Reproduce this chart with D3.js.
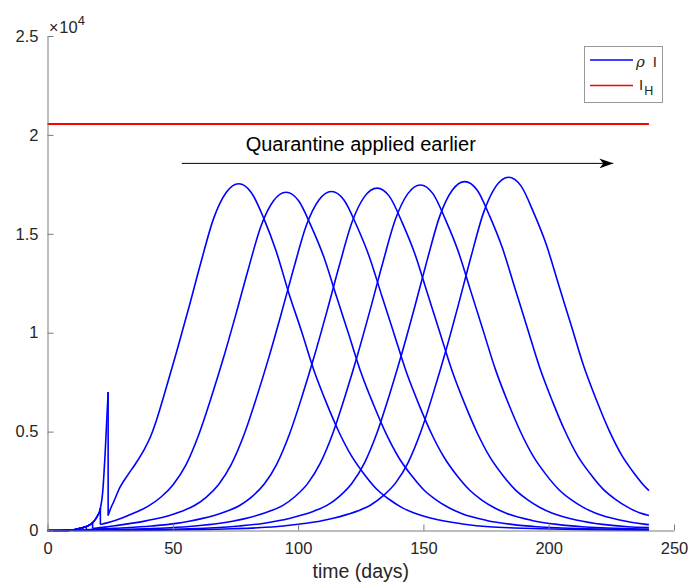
<!DOCTYPE html>
<html><head><meta charset="utf-8">
<script src="https://cdn.jsdelivr.net/npm/d3@7/dist/d3.min.js"></script>
<style>
body{margin:0;background:#fff}
svg{display:block;font-family:"Liberation Sans",Arial,Helvetica,sans-serif}
</style>
</head><body>
<svg id="chart" width="689" height="583"></svg>
<script>
// ---------- data ----------
const xTicks = [0, 50, 100, 150, 200, 250];
const yTicks = [0, 5000, 10000, 15000, 20000, 25000];
const yTickLabels = ["0", "0.5", "1", "1.5", "2", "2.5"];
const xLabel = "time (days)";
const annotationText = "Quarantine applied earlier";
const annotationArrowDays = [53.6, 225.8];
const annotationArrowValue = 18560;
const annotationTextDay = 125;
const annotationTextValue = 19200;

// shared growth before quarantine
const earlyGrowth = [[0,0],[5,2],[8,8],[10,25],[12,80],[14,140],[16,230],[17,300],[18,400],[19,540],[20,750],[21,1050],[22,1900],[23,3900],[24.2,7000]];
const quarantineDays = [24.2, 21.1, 18.0, 15.5, 13.0, 10.5, 8.0];
const valuesBeforeQuarantine = [7000, 1130, 400, 190, 110, 35, 8];

const curve1 = [[24.2,760],[25,1050],[26.5,1480],[29,2200],[32,2800],[35,3350],[38.4,4050],[41.3,4800],[43.8,5700],[46.3,6750],[51.3,8940],[56.3,11220],[61.3,13590],[66.3,15780],[71.3,17090],[76.3,17530],[81.3,17090],[86.3,15780],[91.3,14100],[96.3,12000],[101.3,10100],[106.3,8100],[111.3,6450],[116.3,4980],[121.3,3770],[126.3,2860],[131.3,2100],[136.3,1580],[141.3,1170],[146.3,880],[156.3,530],[166.3,320],[176.3,190],[186.3,130],[196.3,90],[216.3,35],[240,15]];
const curve2 = [[21.1,300],[25,430],[30,650],[35.2,920],[40.2,1230],[45.2,1680],[50.2,2330],[55.2,3300],[60.2,4790],[65.2,6670],[70.2,8720],[75.2,10940],[80.2,13250],[85.2,15390],[90.2,16670],[95.2,17100],[100.2,16670],[105.2,15390],[110.2,13850],[115.2,11880],[120.2,9920],[125.2,7950],[130.2,6330],[135.2,4870],[140.2,3680],[145.2,2790],[150.2,2050],[155.2,1540],[160.2,1150],[165.2,860],[175.2,510],[185.2,310],[195.2,190],[205.2,130],[215.2,90],[240,30]];
const curve3 = [[18,100],[23,170],[28,260],[33.3,360],[38.3,460],[43.3,590],[48.3,750],[53.3,960],[58.3,1240],[63.3,1680],[68.3,2330],[73.3,3330],[78.3,4800],[83.3,6680],[88.3,8740],[93.3,10970],[98.3,13280],[103.3,15430],[108.3,16710],[113.3,17140],[118.3,16710],[123.3,15430],[128.3,13880],[133.3,11910],[138.3,9940],[143.3,7970],[148.3,6340],[153.3,4880],[158.3,3690],[163.3,2790],[168.3,2060],[173.3,1540],[178.3,1150],[183.3,860],[193.3,510],[203.3,310],[213.3,190],[223.3,130],[233.3,86],[240,70]];
const curve4 = [[15.5,40],[21.5,85],[31.5,140],[41.5,225],[51.5,360],[56.5,470],[61.5,600],[66.5,760],[71.5,970],[76.5,1250],[81.5,1700],[86.5,2350],[91.5,3360],[96.5,4850],[101.5,6750],[106.5,8830],[111.5,11080],[116.5,13420],[121.5,15580],[126.5,16880],[131.5,17310],[136.5,16880],[141.5,15580],[146.5,14020],[151.5,12030],[156.5,10040],[161.5,8050],[166.5,6400],[171.5,4930],[176.5,3720],[181.5,2820],[186.5,2080],[191.5,1560],[196.5,1160],[201.5,870],[211.5,520],[221.5,310],[231.5,190],[240,150]];
const curve5 = [[13,15],[18.8,30],[28.8,52],[38.8,87],[48.8,140],[58.8,230],[68.8,370],[73.8,470],[78.8,600],[83.8,770],[88.8,980],[93.8,1260],[98.8,1720],[103.8,2370],[108.8,3390],[113.8,4890],[118.8,6810],[123.8,8910],[128.8,11180],[133.8,13540],[138.8,15720],[143.8,17030],[148.8,17470],[153.8,17030],[158.8,15720],[163.8,14150],[168.8,12140],[173.8,10130],[178.8,8120],[183.8,6460],[188.8,4980],[193.8,3760],[198.8,2850],[203.8,2100],[208.8,1570],[213.8,1170],[218.8,870],[228.8,520],[238.8,310],[240,295]];
const curve6 = [[10.5,5],[26.5,18],[46.5,53],[56.5,88],[66.5,140],[76.5,230],[86.5,370],[91.5,480],[96.5,610],[101.5,780],[106.5,990],[111.5,1270],[116.5,1730],[121.5,2390],[126.5,3420],[131.5,4940],[136.5,6880],[141.5,9000],[146.5,11290],[151.5,13670],[156.5,15880],[161.5,17200],[166.5,17640],[171.5,17200],[176.5,15880],[181.5,14290],[186.5,12260],[191.5,10230],[196.5,8200],[201.5,6530],[206.5,5030],[211.5,3790],[216.5,2880],[221.5,2120],[226.5,1590],[231.5,1180],[236.5,880],[240,760]];
const curve7 = [[8,2],[24,5],[44,18],[64,54],[74,89],[84,140],[94,230],[104,380],[109,480],[114,620],[119,790],[124,1000],[129,1290],[134,1760],[139,2420],[144,3460],[149,5000],[154,6970],[159,9110],[164,11430],[169,13840],[174,16070],[179,17410],[184,17860],[189,17410],[194,16070],[199,14470],[204,12410],[209,10360],[214,8300],[219,6610],[224,5090],[229,3840],[234,2910],[239,2140],[240,2020]];
const afterQuarantine = [curve1, curve2, curve3, curve4, curve5, curve6, curve7];

const hospitalDays = [0, 240];
const hospitalCapacity = 20550;

const seriesColors = { rhoI: "#0000ff", IH: "#ff0000" };

// ---------- drawing ----------
const svg = d3.select("#chart");
const x = d3.scaleLinear().domain([0, 250]).range([47.5, 674]);
const y = d3.scaleLinear().domain([0, 25000]).range([530.5, 36]);

const smooth = d3.line().x(d => x(d[0])).y(d => y(d[1])).curve(d3.curveMonotoneX);
const straight = d3.line().x(d => x(d[0])).y(d => y(d[1]));

const plot = svg.append("g");

// red horizontal line I_H
plot.append("path")
  .attr("d", straight(hospitalDays.map(d => [d, hospitalCapacity])))
  .attr("fill", "none").attr("stroke", seriesColors.IH).attr("stroke-width", 1.8);

// blue curves
afterQuarantine.forEach((post, i) => {
  const q = quarantineDays[i];
  const pre = earlyGrowth.filter(d => d[0] < q).concat([[q, valuesBeforeQuarantine[i]]]);
  plot.append("path").attr("d", smooth(pre))
    .attr("fill", "none").attr("stroke", seriesColors.rhoI).attr("stroke-width", 1.6)
    .attr("stroke-linejoin", "round");
  plot.append("path").attr("d", straight([[q, valuesBeforeQuarantine[i]], post[0]]))
    .attr("fill", "none").attr("stroke", seriesColors.rhoI).attr("stroke-width", 1.6);
  plot.append("path").attr("d", smooth(post))
    .attr("fill", "none").attr("stroke", seriesColors.rhoI).attr("stroke-width", 1.6)
    .attr("stroke-linejoin", "round");
});

// axes
const axisColor = "#7a7a7a";
const textColor = "#262626";
const xAxis = svg.append("g").attr("transform", `translate(0,${y(0)})`)
  .call(d3.axisBottom(x).tickValues(xTicks).tickSizeInner(-6).tickSizeOuter(0).tickPadding(12));
const yAxis = svg.append("g").attr("transform", `translate(${x(0)},0)`)
  .call(d3.axisLeft(y).tickValues(yTicks).tickFormat((d, i) => yTickLabels[i]).tickSizeInner(-6).tickSizeOuter(0).tickPadding(9));
[xAxis, yAxis].forEach(g => {
  g.select(".domain").attr("stroke", axisColor);
  g.selectAll(".tick line").attr("stroke", axisColor);
  g.selectAll(".tick text").attr("fill", textColor).attr("font-size", 16.5)
    .attr("font-family", '"Liberation Sans",Arial,sans-serif');
});

// axis label
svg.append("text").attr("x", (x(0) + x(250)) / 2).attr("y", 578)
  .attr("text-anchor", "middle").attr("font-size", 19.5).attr("fill", textColor).text(xLabel);

// exponent label
const expo = svg.append("text").attr("x", 49).attr("y", 33).attr("fill", textColor);
expo.append("tspan").attr("font-size", 16).text("\u00d7");
expo.append("tspan").attr("font-size", 16.5).attr("dx", 1).text("10");
expo.append("tspan").attr("font-size", 13).attr("dy", -8).text("4");

// annotation
svg.append("defs").append("marker").attr("id", "ah")
  .attr("viewBox", "0 0 14 10").attr("refX", 14).attr("refY", 5)
  .attr("markerWidth", 14).attr("markerHeight", 10).attr("markerUnits", "userSpaceOnUse")
  .attr("orient", "auto")
  .append("path").attr("d", "M0,0 L14,5 L0,10 L4,5 Z").attr("fill", "#000");
svg.append("path")
  .attr("d", straight(annotationArrowDays.map(d => [d, annotationArrowValue])))
  .attr("stroke", "#000").attr("stroke-width", 1).attr("fill", "none")
  .attr("marker-end", "url(#ah)");
svg.append("text").attr("x", x(annotationTextDay)).attr("y", y(annotationTextValue))
  .attr("text-anchor", "middle").attr("font-size", 20).attr("fill", "#000").text(annotationText);

// legend
const lg = svg.append("g");
lg.append("rect").attr("x", 584.5).attr("y", 46.5).attr("width", 78).attr("height", 56)
  .attr("fill", "#fff").attr("stroke", "#999").attr("stroke-width", 1);
lg.append("line").attr("x1", 590).attr("x2", 633).attr("y1", 60).attr("y2", 60)
  .attr("stroke", seriesColors.rhoI).attr("stroke-width", 1.6);
lg.append("line").attr("x1", 590).attr("x2", 633).attr("y1", 85.5).attr("y2", 85.5)
  .attr("stroke", seriesColors.IH).attr("stroke-width", 1.6);
const t1 = lg.append("text").attr("x", 636).attr("y", 67).attr("font-size", 15).attr("fill", textColor);
t1.append("tspan").attr("font-family", '"DejaVu Serif",serif').attr("font-style", "italic").text("\u03c1");
t1.append("tspan").attr("dx", 8).text("I");
const t2 = lg.append("text").attr("x", 639).attr("y", 90).attr("font-size", 15).attr("fill", textColor);
t2.append("tspan").text("I");
t2.append("tspan").attr("font-size", 12.5).attr("dy", 5).attr("dx", 1).text("H");
</script>
</body></html>
